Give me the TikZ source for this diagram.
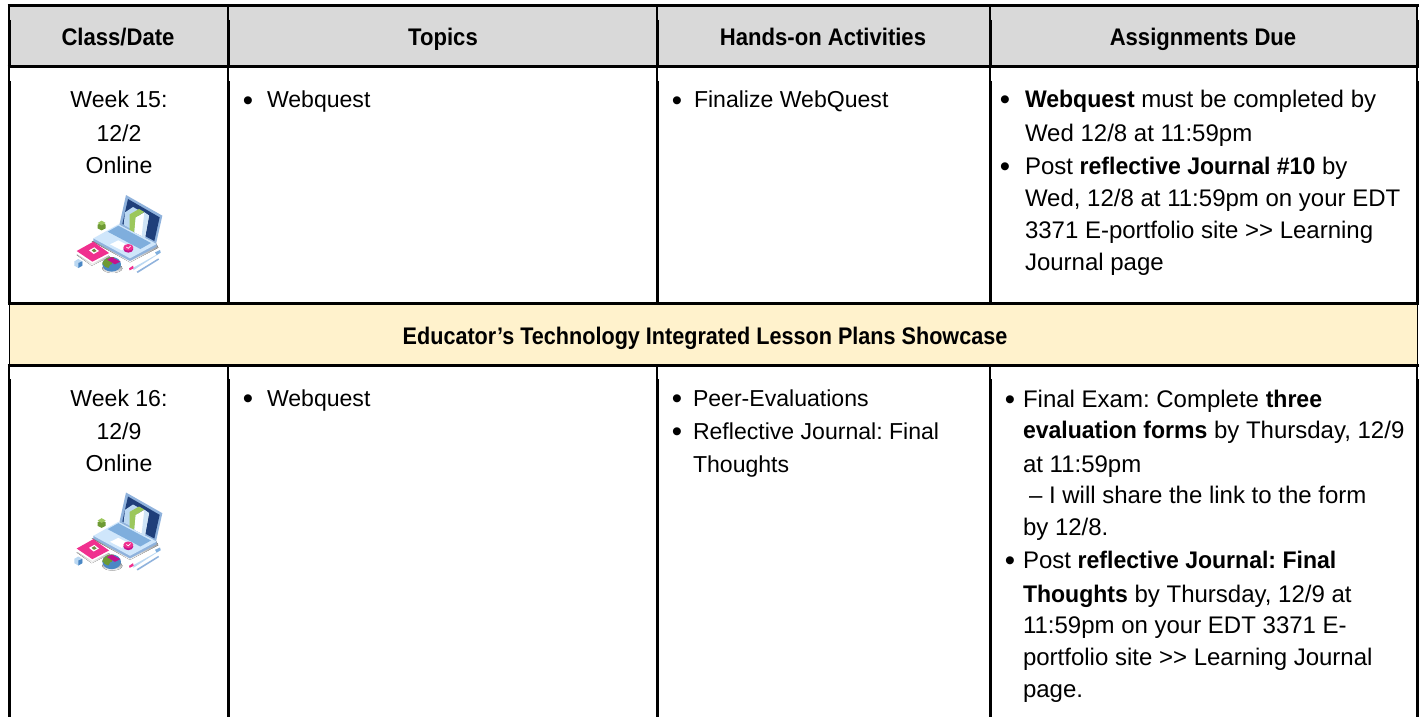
\documentclass[tikz,border=0pt]{standalone}
\usepackage{fontspec}
\setmainfont{Liberation Sans}[BoldFeatures={FakeStretch=0.96}]
\newfontfamily\headfont{Liberation Sans}[UprightFont=* Bold,FakeStretch=0.90]
\newfontfamily\colfont{Liberation Sans}[UprightFont=* Bold,FakeStretch=0.92]
\frenchspacing
\definecolor{hdrgray}{HTML}{D9D9D9}
\definecolor{bandyellow}{HTML}{FFF2CC}
\definecolor{navy}{HTML}{1F3F7A}
\definecolor{lapblue}{HTML}{CFE6FB}
\definecolor{keyblue}{HTML}{7FAEDD}
\definecolor{edgeblue}{HTML}{8FB2DC}
\definecolor{shade}{HTML}{D5DCEC}
\definecolor{bookblue}{HTML}{BBD8F2}
\definecolor{bookgreen}{HTML}{9CC75C}
\definecolor{hotpink}{HTML}{F0308F}
\definecolor{piemag}{HTML}{C4128C}
\definecolor{pieblue}{HTML}{4A87C4}
\definecolor{piegreen}{HTML}{6E9A34}
\tikzset{
  x=0.75pt,y=-0.75pt,
  every node/.style={inner sep=0pt,outer sep=0pt,font=\fontsize{18pt}{20pt}\selectfont},
  body/.style={anchor=base west},
  small/.style={anchor=base west,font=\fontsize{17.3pt}{20pt}\selectfont},
  mid/.style={anchor=base,font=\fontsize{17.3pt}{20pt}\selectfont},
  head/.style={anchor=base,font=\fontsize{18pt}{20pt}\selectfont\colfont},
  bandhead/.style={anchor=base,font=\fontsize{18pt}{20pt}\selectfont\headfont},
  dot/.style={anchor=center,yshift=-2.25pt,font=\fontsize{22pt}{22pt}\selectfont},
  rule/.style={line width=2.25pt,black},
  stub/.style={line width=1.5pt,black},
  laptopicon/.pic={
    \begin{scope}[x=0.25pt,y=-0.25pt]
      \fill[shade] (80,198) -- (195,262) -- (280,218) -- (270,200) -- cycle;
      \fill[shade] (35,240) -- (80,272) -- (135,245) -- (90,215) -- cycle;
      \fill[edgeblue] (183,60) -- (292,122) -- (273,207) -- (163,150) -- cycle;
      \fill[navy] (189,72) -- (284,127) -- (268,198) -- (172,147) -- cycle;
      \fill[bookblue] (180,112) -- (204,96) -- (222,106) -- (212,170) -- (176,150) -- cycle;
      \fill[bookgreen] (194,118) -- (222,102) -- (238,111) -- (212,128) -- (208,172) -- (194,165) -- cycle;
      \fill[white] (212,128) -- (238,112) -- (252,122) -- (240,188) -- (208,172) -- cycle;
      \fill[bookblue!70!white] (238,112) -- (252,122) -- (240,188) -- (230,183) -- cycle;
      \fill[edgeblue] (85,190) -- (85,198) -- (195,258) -- (275,215) -- (275,207) -- cycle;
      \fill[lapblue] (85,190) -- (160,148) -- (275,207) -- (195,250) -- cycle;
      \fill[keyblue] (128,170) -- (160,152) -- (258,204) -- (226,222) -- cycle;
      \fill[white] (135,208) -- (160,196) -- (196,214) -- (170,226) -- cycle;
      \fill[piemag] (190,222) ellipse [x radius=15,y radius=11];
      \fill[hotpink] (190,217) ellipse [x radius=15,y radius=10];
      \draw[white,line width=0.5pt] (184,216) -- (190,220) -- (197,213);
      \fill[piegreen] (110,143) -- (122,149) -- (122,160) -- (110,166) -- (98,160) -- (98,149) -- cycle;
      \fill[bookgreen] (110,137) -- (122,144) -- (110,151) -- (98,144) -- cycle;
      \fill[white] (35,228) -- (35,237) -- (82,265) -- (132,240) -- (132,232) -- cycle;
      \fill[hotpink] (35,228) -- (85,200) -- (132,234) -- (82,260) -- cycle;
      \fill[white] (72,226) -- (88,217) -- (102,228) -- (86,237) -- cycle;
      \fill[bookgreen!70!black] (80,226) -- (88,221) -- (95,228) -- (87,232) -- cycle;
      \fill[bookblue] (40,252) -- (52,259) -- (52,272) -- (40,279) -- (28,272) -- (28,259) -- cycle;
      \fill[pieblue] (40,264) -- (52,259) -- (52,272) -- (40,279) -- cycle;
      \fill[shade] (142,280) ellipse [x radius=30,y radius=14];
      \fill[pieblue] (140,268) ellipse [x radius=28,y radius=22];
      \fill[piegreen] (140,268) -- (112,268) arc [start angle=180,end angle=285,x radius=28,y radius=22] -- cycle;
      \fill[piegreen] (140,262) -- (112,262) arc [start angle=180,end angle=110,x radius=28,y radius=18] -- cycle;
      \fill[piemag] (126,254) -- (140,246) -- (166,260) -- (150,268) -- cycle;
      \fill[white] (196,272) -- (282,226) -- (287,233) -- (202,282) -- cycle;
      \fill[bookblue] (205,278) -- (280,236) -- (287,233) -- (205,286) -- cycle;
      \fill[keyblue] (270,232) -- (285,225) -- (287,233) -- (275,240) -- cycle;
      \fill[hotpink] (192,280) -- (204,272) -- (206,280) -- (194,286) -- cycle;
      \fill[edgeblue] (215,290) -- (280,250) -- (282,254) -- (218,294) -- cycle;
    \end{scope}
  }
}
\begin{document}
\begin{tikzpicture}
\useasboundingbox (0,0) rectangle (1423,717);
\fill[white] (0,0) rectangle (1423,717);
% fills
\fill[hdrgray] (9,6) rectangle (1417,67);
\fill[bandyellow] (9,304) rectangle (1417,365);
\draw[black,line width=0.5pt] (9,304) -- (9,365) (1417,304) -- (1417,365);
% horizontal rules
\draw[rule] (7.5,6) -- (1418.5,6);
\draw[rule] (7.5,67) -- (1418.5,67);
\draw[rule] (7.5,303.5) -- (1418.5,303.5);
\draw[rule] (7.5,365) -- (1418.5,365);
% vertical rules
\foreach \cx/\sx in {9.5/9,228.5/228,657.5/657,990/989.5,1417/1417}{
  \draw[stub] (\sx,6) -- (\sx,20);
  \draw[rule] (\cx,20) -- (\cx,67);
  \draw[stub] (\sx,67) -- (\sx,81);
  \draw[rule] (\cx,81) -- (\cx,304);
  \draw[stub] (\sx,365) -- (\sx,379);
  \draw[rule] (\cx,379) -- (\cx,717);
}
% header
\node[head] (h1) at (118,46) {Class/Date};
\node[head] (h2) at (443,46) {Topics};
\node[head] (h3) at (823,46) {Hands-on Activities};
\node[head] (h4) at (1203,46) {Assignments Due};
% row 1, column 1
\node[mid] (a1) at (119,108) {Week 15:};
\node[mid] (a2) at (119,141) {12/2};
\node[mid] (a3) at (119,173) {Online};
\pic (iconA) at (65,175) {laptopicon};
% row 1, column 2
\node[dot] (b1) at (248,101) {•};
\node[small] (b2) at (267,108) {Webquest};
% row 1, column 3
\node[dot] (c1) at (677,101) {•};
\node[small] (c2) at (694,108) {Finalize WebQuest};
% row 1, column 4
\node[dot] (d0) at (1005,100) {•};
\node[body] (d1) at (1025,107) {\textbf{Webquest} must be completed by};
\node[body] (d2) at (1025,141) {Wed 12/8 at 11:59pm};
\node[dot] (d3) at (1005,167) {•};
\node[body] (d4) at (1025,174) {Post \textbf{reflective Journal \#10} by};
\node[body] (d5) at (1025,206) {Wed, 12/8 at 11:59pm on your EDT};
\node[body] (d6) at (1025,238) {3371 E-portfolio site >\kern0pt> Learning};
\node[body] (d7) at (1025,270) {Journal page};
% band
\node[bandhead] (band) at (705,344) {Educator’s Technology Integrated Lesson Plans Showcase};
% row 2, column 1
\node[mid] (e1) at (119,406) {Week 16:};
\node[mid] (e2) at (119,439) {12/9};
\node[mid] (e3) at (119,471) {Online};
\pic (iconB) at (65,472.5) {laptopicon};
% row 2, column 2
\node[dot] (f1) at (248,399) {•};
\node[small] (f2) at (267,406) {Webquest};
% row 2, column 3
\node[dot] (g1) at (677,399) {•};
\node[small] (g2) at (693,406) {Peer-Evaluations};
\node[dot] (g3) at (677,432) {•};
\node[small] (g4) at (693,439) {Reflective Journal: Final};
\node[small] (g5) at (693,472) {Thoughts};
% row 2, column 4
\node[dot] (k0) at (1010,400) {•};
\node[body] (k1) at (1023,407) {Final Exam: Complete \textbf{three}};
\node[body] (k2) at (1023,438) {\textbf{evaluation forms} by Thursday, 12/9};
\node[body] (k3) at (1023,472) {at 11:59pm};
\node[body] (k4) at (1029,503) {– I will share the link to the form};
\node[body] (k5) at (1023,535) {by 12/8.};
\node[dot] (k6) at (1010,561) {•};
\node[body] (k7) at (1023,568) {Post \textbf{reflective Journal: Final}};
\node[body] (k8) at (1023,602) {\textbf{Thoughts} by Thursday, 12/9 at};
\node[body] (k9) at (1023,633) {11:59pm on your EDT 3371 E-};
\node[body] (k10) at (1023,665) {portfolio site >\kern0pt> Learning Journal};
\node[body] (k11) at (1023,697) {page.};
\end{tikzpicture}
\end{document}
